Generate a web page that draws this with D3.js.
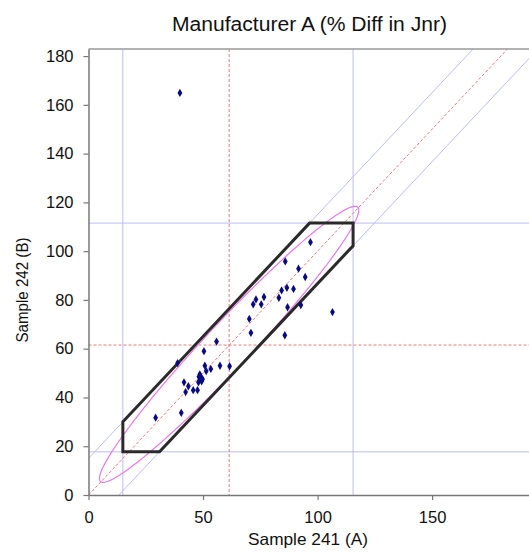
<!DOCTYPE html>
<html>
<head>
<meta charset="utf-8">
<script src="https://cdn.jsdelivr.net/npm/d3@7"></script>
<style>
  body { margin: 0; background: #fff; }
  svg { display: block; font-family: "Liberation Sans", Arial, sans-serif; }
</style>
</head>
<body>
<svg id="chart" width="529" height="556"></svg>
<script>
// ---- data ----
const sampleA = [39.9, 96.9, 85.9, 91.7, 94.6, 84.3, 86.6, 89.5, 73.1, 71.9, 76.6, 75.4, 83.1, 86.9, 92.7, 106.5, 70.2, 70.9, 85.7,
  55.9, 50.4, 38.9, 50.8, 53.4, 51.4, 57.4, 61.6, 48.6, 48.2, 49.3, 48.6, 49.4, 48.0, 41.7, 43.6, 42.4, 45.7, 47.6, 40.5, 29.3, 49.8];
const sampleB = [164.9, 103.7, 95.8, 92.8, 89.4, 83.9, 85.0, 84.5, 80.2, 78.2, 81.2, 78.2, 80.9, 77.0, 77.9, 75.0, 72.2, 66.5, 65.5,
  62.9, 59.0, 54.1, 53.0, 51.7, 50.8, 53.0, 52.8, 49.5, 48.5, 48.0, 47.2, 46.6, 46.2, 46.2, 44.6, 42.2, 43.0, 43.0, 33.7, 31.7, 47.5];
const xTicks = [0, 50, 100, 150];
const yTicks = [0, 20, 40, 60, 80, 100, 120, 140, 160, 180];
const medianA = 61.4, medianB = 61.5;          // red dashed cross
const limitsA = [15, 115.5];                    // blue vertical limits
const limitsB = [17.7, 111.5];                  // blue horizontal limits
const diagOffsets = [15, -13.3];                // blue diagonal lines y = x + k
const polygonPts = [[15, 17.7], [15, 30], [96.5, 111.5], [115.5, 111.5], [115.5, 102.2], [31, 17.7]];
const ellipse = { cx: 61.4, cy: 61.8, a: 79.5, b: 9.5, angleDeg: 45 };
const title = "Manufacturer A (% Diff in Jnr)";
const xLabel = "Sample 241 (A)";
const yLabel = "Sample 242 (B)";

// ---- layout ----
const svg = d3.select("#chart");
const mLeft = 88.5, mRight = 529, mTop = 49, mBottom = 495;
const x = d3.scaleLinear().domain([0, 192.3]).range([mLeft, mRight]);
const y = d3.scaleLinear().domain([0, 182.9]).range([mBottom, mTop]);

svg.append("clipPath").attr("id", "clip")
  .append("rect").attr("x", mLeft).attr("y", mTop).attr("width", mRight - mLeft).attr("height", mBottom - mTop);

const plot = svg.append("g").attr("clip-path", "url(#clip)");

// blue limit lines
const blue = "#bcbcf2";
limitsA.forEach(v => plot.append("line").attr("x1", x(v)).attr("x2", x(v)).attr("y1", mTop).attr("y2", mBottom)
  .attr("stroke", blue).attr("stroke-width", 1));
limitsB.forEach(v => plot.append("line").attr("x1", mLeft).attr("x2", mRight).attr("y1", y(v)).attr("y2", y(v))
  .attr("stroke", blue).attr("stroke-width", 1));
diagOffsets.forEach(k => plot.append("line").attr("x1", x(-20)).attr("y1", y(-20 + k)).attr("x2", x(220)).attr("y2", y(220 + k))
  .attr("stroke", blue).attr("stroke-width", 1));

// red dashed lines
const red = "#ea7a7a";
plot.append("line").attr("x1", x(medianA)).attr("x2", x(medianA)).attr("y1", mTop).attr("y2", mBottom)
  .attr("stroke", red).attr("stroke-width", 1).attr("stroke-dasharray", "3,2");
plot.append("line").attr("x1", mLeft).attr("x2", mRight).attr("y1", y(medianB)).attr("y2", y(medianB))
  .attr("stroke", red).attr("stroke-width", 1).attr("stroke-dasharray", "3,2");
plot.append("line").attr("x1", x(0)).attr("y1", y(0)).attr("x2", x(200)).attr("y2", y(200))
  .attr("stroke", red).attr("stroke-width", 1).attr("stroke-dasharray", "3,2");

// ellipse
const th = ellipse.angleDeg * Math.PI / 180;
const ellPts = d3.range(0, 361, 2).map(d => {
  const t = d * Math.PI / 180;
  const u = ellipse.a * Math.cos(t), v = ellipse.b * Math.sin(t);
  return [ellipse.cx + u * Math.cos(th) - v * Math.sin(th), ellipse.cy + u * Math.sin(th) + v * Math.cos(th)];
});
plot.append("path").attr("d", d3.line().x(d => x(d[0])).y(d => y(d[1]))(ellPts))
  .attr("fill", "none").attr("stroke", "#e67ae6").attr("stroke-width", 1.2);

// polygon
plot.append("path").attr("d", d3.line().x(d => x(d[0])).y(d => y(d[1]))(polygonPts) + "Z")
  .attr("fill", "none").attr("stroke", "#2a2a2a").attr("stroke-width", 3).attr("stroke-linejoin", "miter");

// points
const pts = sampleA.map((a, i) => [a, sampleB[i]]);
plot.selectAll(".pt").data(pts).enter().append("path").attr("class", "pt")
  .attr("transform", d => `translate(${x(d[0])},${y(d[1])})`)
  .attr("d", d3.symbol().type(d3.symbolDiamond).size(20))
  .attr("fill", "#0a0a80");

// top border
svg.append("line").attr("x1", mLeft).attr("x2", mRight).attr("y1", mTop).attr("y2", mTop)
  .attr("stroke", "#999999").attr("stroke-width", 1.5);

// axes
const axisColor = "#777777";
const gx = svg.append("g").attr("transform", `translate(0,${mBottom})`)
  .call(d3.axisBottom(x).tickValues(xTicks).tickSize(5).tickSizeOuter(0).tickPadding(11));
const gy = svg.append("g").attr("transform", `translate(${mLeft},0)`)
  .call(d3.axisLeft(y).tickValues(yTicks).tickSize(5).tickSizeOuter(0).tickPadding(10));
[gx, gy].forEach(g => {
  g.select(".domain").attr("stroke", axisColor).attr("stroke-width", 1.5);
  g.selectAll(".tick line").attr("stroke", axisColor).attr("stroke-width", 1.2);
  g.selectAll(".tick text").attr("fill", "#111").style("font-size", "16.5px")
    .style("font-family", "'Liberation Sans', Arial, sans-serif");
});

// texts
svg.append("text").attr("x", 309.5).attr("y", 31).attr("text-anchor", "middle")
  .style("font-size", "20px").attr("fill", "#111")
  .attr("textLength", 275).attr("lengthAdjust", "spacingAndGlyphs").text(title);
svg.append("text").attr("x", 308).attr("y", 545).attr("text-anchor", "middle")
  .style("font-size", "16.5px").attr("fill", "#111")
  .attr("textLength", 120).attr("lengthAdjust", "spacingAndGlyphs").text(xLabel);
svg.append("text").attr("transform", "translate(28,290) rotate(-90)").attr("text-anchor", "middle")
  .style("font-size", "16px").attr("fill", "#111")
  .attr("textLength", 105).attr("lengthAdjust", "spacingAndGlyphs").text(yLabel);
</script>
</body>
</html>
